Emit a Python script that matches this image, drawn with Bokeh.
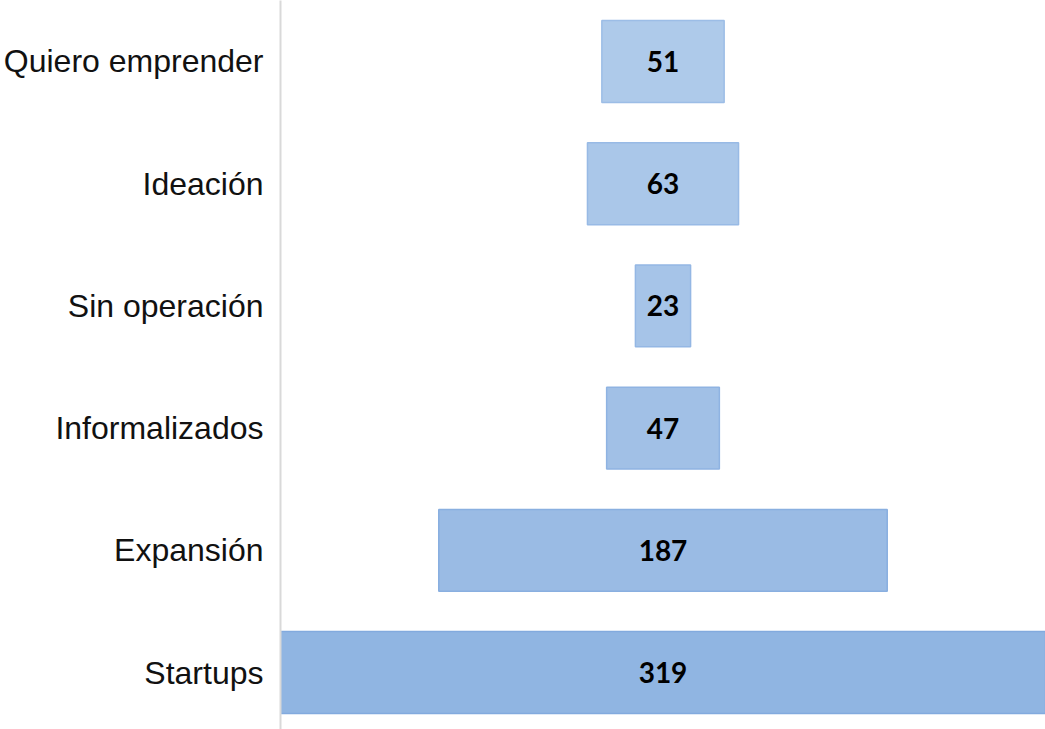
from bokeh.plotting import figure
from bokeh.models import ColumnDataSource, Range1d, FixedTicker
from bokeh.core.properties import value
from bokeh.embed import file_html
from bokeh.resources import INLINE

# Data (top to bottom)
categories = ["Quiero emprender", "Ideación", "Sin operación", "Informalizados", "Expansión", "Startups"]
counts = [51, 63, 23, 47, 187, 319]

# Styles
fill_colors = ["#aecaea", "#aac7e9", "#a6c4e8", "#a1c0e6", "#9abbe4", "#90b5e2"]
line_colors = ["#9cbde6", "#98bae5", "#94b7e4", "#8fb3e2", "#89afe0", "#82aade"]

n = len(categories)
pos = [n - 1 - i for i in range(n)]

src = ColumnDataSource(dict(
    y=pos,
    left=[-c / 2 for c in counts],
    right=[c / 2 for c in counts],
    label=[str(c) for c in counts],
    fill=fill_colors,
    line=line_colors,
))

half = max(counts) / 2
p = figure(
    width=1045, height=729,
    output_backend="svg", toolbar_location=None,
    x_range=Range1d(-half, half),
    y_range=Range1d(-0.466, n - 1 + 0.499),
    min_border_left=280, min_border_right=0,
    min_border_top=0, min_border_bottom=0,
)

p.hbar(y="y", left="left", right="right", height=0.67, source=src,
       fill_color="fill", line_color="line", line_width=1.5)

p.text(x=0, y="y", text="label", source=src,
       text_align="center", text_baseline="middle",
       text_font=value("Lato"), text_font_style="bold",
       text_font_size="28px", text_color="#000000")

p.xaxis.visible = False
p.xgrid.visible = False
p.ygrid.visible = False
p.outline_line_color = None

ya = p.yaxis[0]
ya.ticker = FixedTicker(ticks=pos)
ya.major_label_overrides = {pos[i]: categories[i] for i in range(n)}
ya.major_tick_line_color = None
ya.minor_tick_line_color = None
ya.axis_line_color = "#d9d9d9"
ya.axis_line_width = 2
ya.major_label_text_font = "Liberation Sans"
ya.major_label_text_font_size = "32px"
ya.major_label_text_color = "#111111"
ya.major_label_standoff = 11

open("out.html", "w").write(file_html(p, INLINE))
